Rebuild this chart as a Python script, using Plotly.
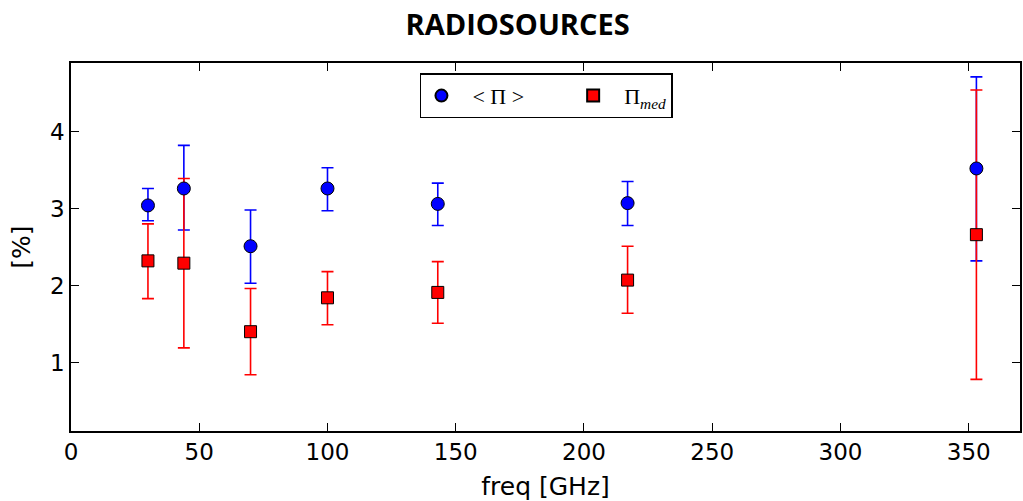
import plotly.graph_objects as go

freq = [30, 44, 70, 100, 143, 217, 353]

mean_pi = [3.04, 3.26, 2.51, 3.26, 3.06, 3.07, 3.52]
mean_err_plus = [0.22, 0.56, 0.47, 0.27, 0.27, 0.28, 1.19]
mean_err_minus = [0.20, 0.54, 0.48, 0.29, 0.28, 0.29, 1.20]

med_pi = [2.32, 2.29, 1.40, 1.84, 1.91, 2.07, 2.66]
med_err_plus = [0.48, 1.10, 0.56, 0.34, 0.40, 0.44, 1.88]
med_err_minus = [0.49, 1.10, 0.56, 0.35, 0.40, 0.43, 1.88]

BLUE = "#0000ff"
RED = "#ff0000"
NB = "\u00a0"

fig = go.Figure()

# error bars first (so markers sit on top)
fig.add_trace(go.Scatter(
    x=freq, y=mean_pi, mode="markers",
    marker=dict(size=1, color="rgba(0,0,0,0)"),
    error_y=dict(type="data", symmetric=False, array=mean_err_plus,
                 arrayminus=mean_err_minus, color=BLUE, thickness=1.6, width=6),
    showlegend=False, hoverinfo="skip"))
fig.add_trace(go.Scatter(
    x=freq, y=med_pi, mode="markers",
    marker=dict(size=1, color="rgba(0,0,0,0)"),
    error_y=dict(type="data", symmetric=False, array=med_err_plus,
                 arrayminus=med_err_minus, color=RED, thickness=1.6, width=6),
    showlegend=False, hoverinfo="skip"))

fig.add_trace(go.Scatter(
    x=freq, y=mean_pi, mode="markers", name=NB * 2 + "< Π >" + NB * 8,
    marker=dict(symbol="circle", size=13, color=BLUE,
                line=dict(color="black", width=1))))
fig.add_trace(go.Scatter(
    x=freq, y=med_pi, mode="markers", name=NB * 2 + "Π<sub><i>med</i></sub>",
    marker=dict(symbol="square", size=12, color=RED,
                line=dict(color="black", width=1))))

axis_common = dict(
    showline=True, linecolor="black", linewidth=1.5, mirror="allticks",
    ticks="inside", ticklen=8, tickwidth=1, tickcolor="black",
    showgrid=False, zeroline=False,
    tickfont=dict(family="DejaVu Sans", size=23, color="black"),
)

fig.update_layout(
    width=1023, height=501,
    margin=dict(l=71, r=1, t=63, b=70),
    plot_bgcolor="white", paper_bgcolor="white",
    title=dict(text="<b>RADIOSOURCES</b>", x=0.506, xanchor="center",
               y=0.95, yanchor="middle",
               font=dict(family="Open Sans", size=29, color="black")),
    xaxis=dict(range=[0, 370], tickvals=[0, 50, 100, 150, 200, 250, 300, 350],
               title=dict(text="freq [GHz]", standoff=14,
                          font=dict(family="DejaVu Sans", size=25, color="black")),
               **axis_common),
    yaxis=dict(range=[0.11, 4.89], tickvals=[1, 2, 3, 4],
               title=dict(text="[%]", standoff=12,
                          font=dict(family="DejaVu Sans", size=25, color="black")),
               **axis_common),
    legend=dict(orientation="h", x=0.501, xanchor="center", y=0.972, yanchor="top",
                bordercolor="black", borderwidth=1.5, bgcolor="white",
                font=dict(family="Liberation Serif", size=22, color="black"),
                itemsizing="constant"),
)

fig.write_html("out.html")
